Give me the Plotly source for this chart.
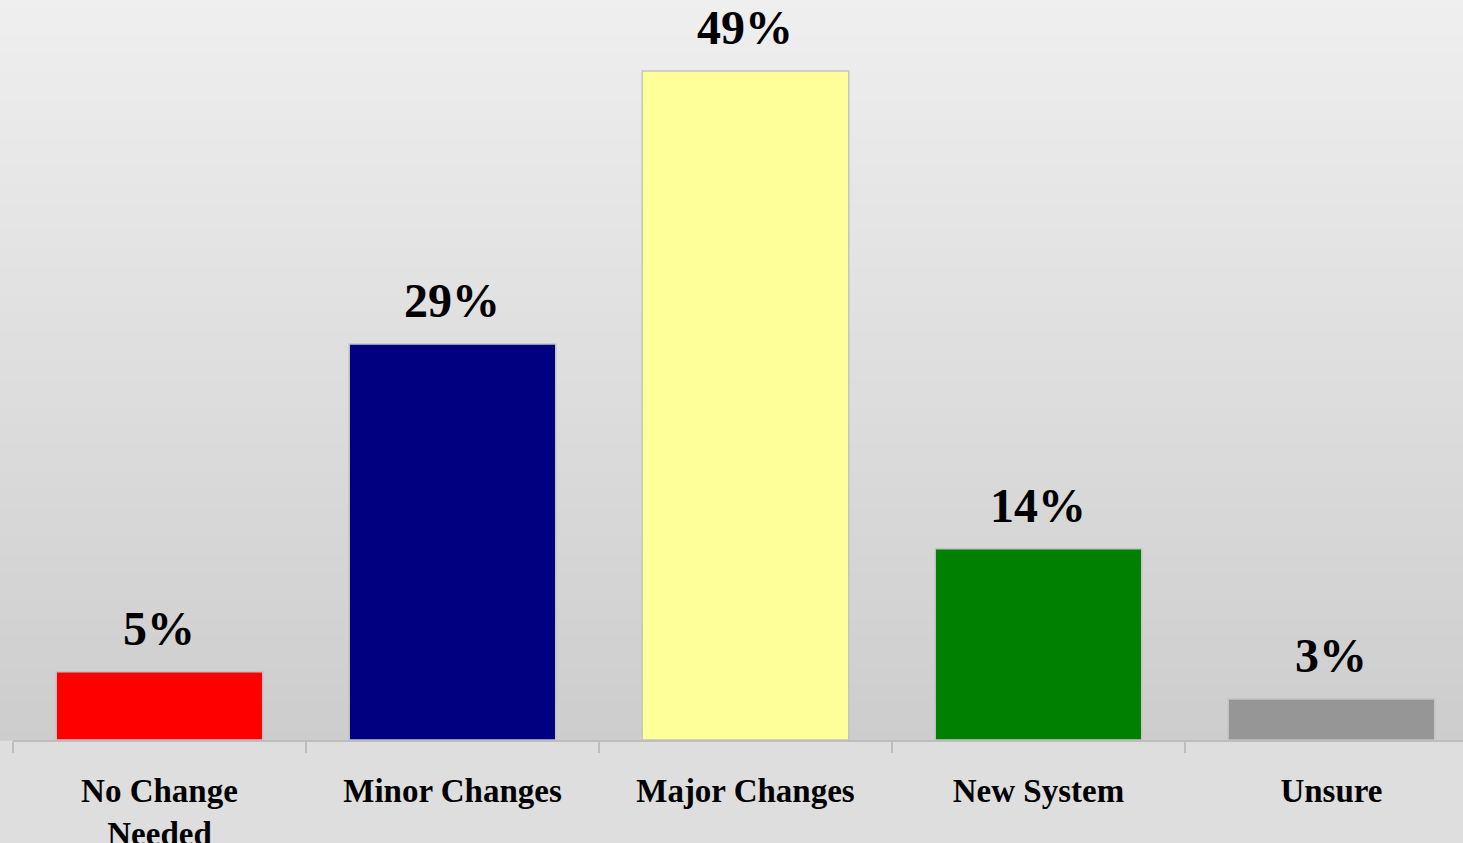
import plotly.graph_objects as go

categories = ["No Change<br>Needed", "Minor Changes", "Major Changes", "New System", "Unsure"]
values = [5, 29, 49, 14, 3]
labels = ["5%", "29%", "49%", "14%", "3%"]
colors = ["#FF0000", "#000080", "#FFFF99", "#008000", "#969696"]

serif = "Liberation Serif, Times New Roman, serif"

fig = go.Figure()
fig.add_trace(go.Bar(
    x=categories,
    y=values,
    width=0.705,
    marker=dict(color=colors, line=dict(color="#C4C4C4", width=1.5)),
    hoverinfo="skip",
))

for c, v, t in zip(categories, values, labels):
    fig.add_annotation(x=c, y=v, text=t, showarrow=False, yanchor="bottom",
                       yshift=15, font=dict(family=serif, size=48, color="black", weight="bold"))

# vertical grey gradient background built from thin stripes
n = 80
top = (0xEF, 0xEF, 0xEF)
bot = (0xCD, 0xCD, 0xCD)
for i in range(n):
    f = (i + 0.5) / n
    col = tuple(round(top[k] + (bot[k] - top[k]) * f) for k in range(3))
    fig.add_shape(type="rect", xref="paper", yref="paper", layer="below",
                  x0=-0.02, x1=1.02, y0=1 - (i + 1) / n - 0.001, y1=1 - i / n + 0.001,
                  line=dict(width=0), fillcolor="rgb(%d,%d,%d)" % col)

fig.update_xaxes(
    range=[-0.5, 4.449],
    showline=True, linecolor="#BDBDBD", linewidth=2,
    ticks="outside", tickson="boundaries", ticklen=11, tickwidth=2, tickcolor="#BDBDBD",
    tickfont=dict(family=serif, size=33, color="black", weight="bold"),
    ticklabelstandoff=20,
    showgrid=False,
    automargin=False,
)
fig.update_yaxes(range=[0, 54.2], visible=False, showgrid=False, automargin=False)

fig.update_layout(
    width=1463, height=843,
    margin=dict(l=13, r=0, t=0, b=103, autoexpand=False),
    paper_bgcolor="#DEDEDE",
    plot_bgcolor="rgba(0,0,0,0)",
    showlegend=False,
    bargap=0.3,
)

fig.write_html("out.html", config={"displayModeBar": False},
               post_script="document.body.style.margin='0';")
